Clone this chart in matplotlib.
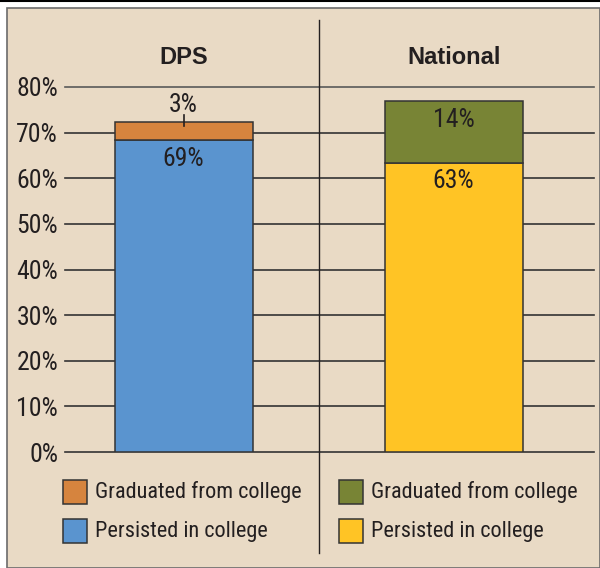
import matplotlib.pyplot as plt
from matplotlib import font_manager
from matplotlib.patches import Rectangle
from matplotlib.lines import Line2D

# values (percent of students)
groups = ['DPS', 'National']
persisted = [68.4, 63.4]
graduated = [4.0, 13.6]
persisted_labels = ['69%', '63%']
graduated_labels = ['3%', '14%']
yticks = [0, 10, 20, 30, 40, 50, 60, 70, 80]
legend_labels = ['Graduated from college', 'Persisted in college']

bg = '#E9DAC5'
ink = '#231F20'
grad_colors = ['#D6843E', '#788435']
pers_colors = ['#5A94CF', '#FFC425']
W, H = 600, 568

# the reference uses a condensed face; use one if the box has it
installed = {f.name for f in font_manager.fontManager.ttflist}
narrow = None
for cand in ['Liberation Sans Narrow', 'Roboto Condensed', 'DejaVu Sans Condensed', 'Open Sans Condensed']:
    if cand in installed:
        narrow = cand
        break
if narrow:
    body, fs, fs_leg = narrow, 18.5, 16
else:
    body, fs, fs_leg = 'Liberation Sans', 15.5, 14.5

fig = plt.figure(figsize=(6, 5.68), dpi=100)
fig.patch.set_facecolor('white')

# beige panel with grey frame and black line on top
fig.add_artist(Rectangle((7 / W, 0), (W - 7) / W, (H - 8) / H, transform=fig.transFigure,
                         facecolor=bg, edgecolor='#6b6b6b', linewidth=1.2, zorder=0))
fig.add_artist(Line2D([0, 1], [1 - 0.5 / H, 1 - 0.5 / H], transform=fig.transFigure, color='black', lw=1.5))

ax = fig.add_axes([65 / W, (H - 452) / H, 529 / W, 365 / H])
ax.set_facecolor('none')
ax.set_xlim(-0.439, 1.520)
ax.set_ylim(0, 80)
for s in ax.spines.values():
    s.set_visible(False)
ax.set_xticks([])
ax.set_yticks(yticks)
ax.set_yticklabels([f'{t}%' for t in yticks], family=body, fontsize=fs, color=ink)
ax.tick_params(axis='y', length=0, pad=5)

for t in yticks:
    ax.axhline(t, color='#5a5a5a' if t == 80 else '#333333', lw=1.2, zorder=1, clip_on=False)

x = [0, 1]
width = 0.511
ax.bar(x, persisted, width, color=pers_colors, edgecolor='#333333', linewidth=1.1, zorder=3)
ax.bar(x, graduated, width, bottom=persisted, color=grad_colors, edgecolor='#333333', linewidth=1.1, zorder=3)

# divider between the two groups
ax.plot([0.5, 0.5], [-22.1, 94.7], color=ink, lw=1.0, clip_on=False, zorder=2)

for i, g in enumerate(groups):
    top = persisted[i] + graduated[i]
    ax.text(x[i], 86.4, g, ha='center', va='center', fontsize=17, fontweight='bold',
            family='Liberation Sans', color=ink, clip_on=False)
    ax.text(x[i], persisted[i] - 4.1, persisted_labels[i], ha='center', va='center',
            family=body, fontsize=fs, color=ink, zorder=4)
    if graduated[i] < 6:
        ax.text(x[i], top + 3.6, graduated_labels[i], ha='center', va='center',
                family=body, fontsize=fs, color=ink, zorder=4)
        ax.plot([x[i], x[i]], [top - 0.9, top + 1.5], color=ink, lw=1.2, zorder=4)
    else:
        ax.text(x[i], top - 4.2, graduated_labels[i], ha='center', va='center',
                family=body, fontsize=fs, color=ink, zorder=4)

# legends, one per group
for col, x0 in enumerate([63, 339]):
    for row, (lab, c) in enumerate(zip(legend_labels, [grad_colors[col], pers_colors[col]])):
        y0 = 480 + row * 39
        fig.add_artist(Rectangle((x0 / W, 1 - (y0 + 24) / H), 24 / W, 24 / H, transform=fig.transFigure,
                                 facecolor=c, edgecolor='#333333', linewidth=1.1))
        fig.text((x0 + 32) / W, 1 - (y0 + 12) / H, lab, ha='left', va='center',
                 family=body, fontsize=fs_leg, color=ink)

fig.savefig('out.png', dpi=100, facecolor=fig.get_facecolor())
